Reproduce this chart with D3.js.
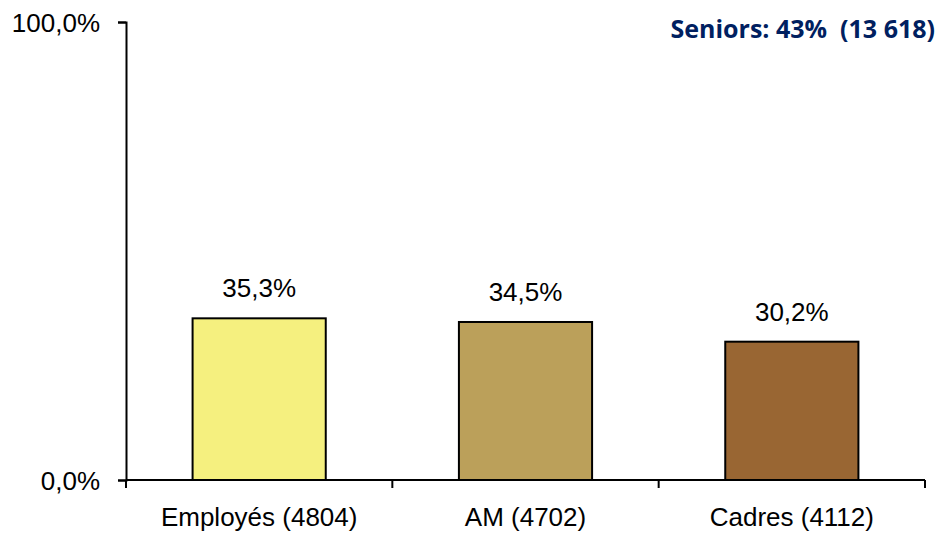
<!DOCTYPE html>
<html lang="fr">
<head>
<meta charset="UTF-8">
<title>Seniors</title>
<script src="https://d3js.org/d3.v7.min.js"></script>
<style>
  body { margin: 0; background: #fff; }
</style>
</head>
<body>
<div id="chart"></div>
<script>
// data
var categories = ["Employés (4804)", "AM (4702)", "Cadres (4112)"];
var values = [35.3, 34.5, 30.2];
var barColors = ["#F5F07F", "#BBA05A", "#996633"];
var yTicks = [0, 100];
var title = "Seniors: 43%  (13 618)";

var width = 939, height = 533;
var margin = {left: 126, right: 14, top: 22, bottom: 53};
var arial = "'Liberation Sans', Arial, sans-serif";

var svg = d3.select("#chart").append("svg")
    .attr("width", width)
    .attr("height", height);

var x = d3.scaleBand()
    .domain(categories)
    .range([margin.left, width - margin.right])
    .paddingInner(0.5)
    .paddingOuter(0.25);

var y = d3.scaleLinear()
    .domain([0, 100])
    .range([height - margin.bottom, margin.top]);

var fmt = function(v){ return d3.format(".1f")(v).replace(".", ",") + "%"; };

// bars
svg.selectAll("rect.bar")
    .data(values)
    .enter().append("rect")
    .attr("class", "bar")
    .attr("x", function(d, i){ return x(categories[i]); })
    .attr("y", function(d){ return y(d); })
    .attr("width", x.bandwidth())
    .attr("height", function(d){ return y(0) - y(d); })
    .attr("fill", function(d, i){ return barColors[i]; })
    .attr("stroke", "#000")
    .attr("stroke-width", 2);

// value labels
svg.selectAll("text.val")
    .data(values)
    .enter().append("text")
    .attr("class", "val")
    .attr("x", function(d, i){ return x(categories[i]) + x.bandwidth() / 2; })
    .attr("y", function(d){ return y(d) - 21; })
    .attr("text-anchor", "middle")
    .style("font-family", arial)
    .style("font-size", "26px")
    .attr("fill", "#000")
    .text(function(d){ return fmt(d); });

// y axis
var yAxis = d3.axisLeft(y).tickValues(yTicks).tickSize(8).tickFormat(fmt);
var gy = svg.append("g")
    .attr("transform", "translate(" + margin.left + ",0)")
    .call(yAxis);
gy.select(".domain").attr("stroke", "#000").attr("stroke-width", 2);
gy.selectAll(".tick line").attr("stroke", "#000").attr("stroke-width", 2);
gy.selectAll(".tick text")
    .style("font-family", arial)
    .style("font-size", "26px")
    .attr("fill", "#000")
    .attr("x", -26)
    .attr("dy", "0.35em");

// x axis with tick marks between categories
var bandStep = x.step();
var edges = [margin.left];
categories.forEach(function(c){ edges.push(x(c) - x.bandwidth() / 2 + bandStep); });

var gx = svg.append("g");
gx.append("line")
    .attr("x1", margin.left).attr("x2", width - margin.right)
    .attr("y1", y(0)).attr("y2", y(0))
    .attr("stroke", "#000").attr("stroke-width", 2);
gx.selectAll("line.tk")
    .data(edges)
    .enter().append("line")
    .attr("class", "tk")
    .attr("x1", function(d){ return d; }).attr("x2", function(d){ return d; })
    .attr("y1", y(0)).attr("y2", y(0) + 8)
    .attr("stroke", "#000").attr("stroke-width", 2);
gx.selectAll("text")
    .data(categories)
    .enter().append("text")
    .attr("x", function(d){ return x(d) + x.bandwidth() / 2; })
    .attr("y", height - 7)
    .attr("text-anchor", "middle")
    .style("font-family", arial)
    .style("font-size", "26px")
    .attr("fill", "#000")
    .text(function(d){ return d; });

// headline, top right
svg.append("text")
    .attr("x", width - 4)
    .attr("y", 38)
    .attr("text-anchor", "end")
    .style("font-family", "'Open Sans', sans-serif")
    .style("font-weight", "bold")
    .style("font-size", "25px")
    .style("white-space", "pre")
    .attr("fill", "#002060")
    .text(title);
</script>
</body>
</html>
